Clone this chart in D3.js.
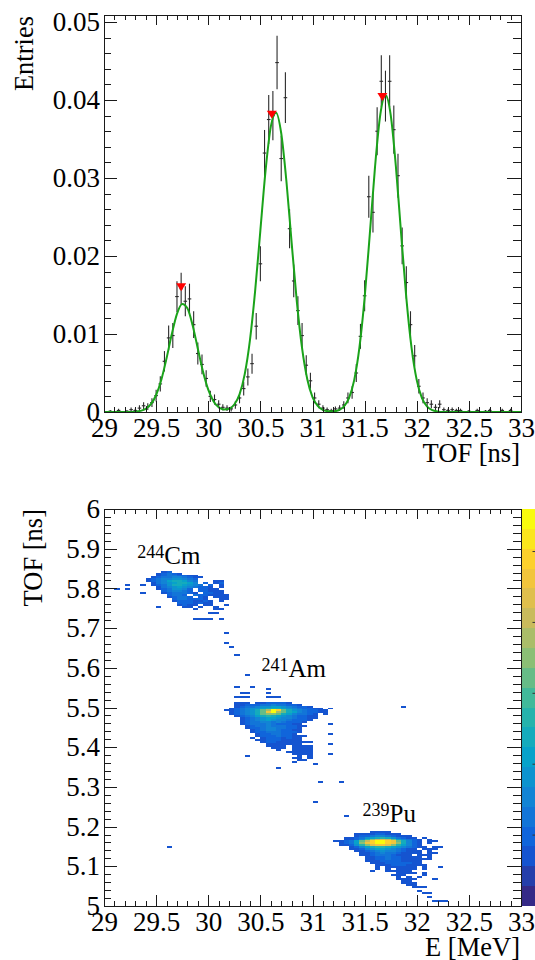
<!DOCTYPE html>
<html><head><meta charset="utf-8">
<script src="https://cdn.jsdelivr.net/npm/d3@7"></script>
<style>
html,body{margin:0;padding:0;background:#fff;}
svg{display:block;font-family:"Liberation Serif","DejaVu Serif","Noto Serif","Times New Roman",serif;}
svg text{font-family:"Liberation Serif","DejaVu Serif","Noto Serif","Times New Roman",serif;fill:#000;}
</style></head><body>
<svg id="c" width="535" height="960"></svg>
<script>
// ================= DATA =================
// --- top panel: TOF histogram (100 bins, 29..33 ns) ---
const tofBinLow = 29.0;
const tofBinWidth = 0.04;
const tofValues = [
0,0.0001,0,0.0002,0,0.0001,0.0003,0.0002,0.0005,0.0008,
0.0007,0.0012,0.0021,0.0036,0.0065,0.0095,0.0098,0.0148,0.0158,0.0142,
0.0145,0.0112,0.0075,0.0061,0.0043,0.0020,0.0016,0.0010,0.0006,0.0005,
0.0004,0.0009,0.0018,0.0030,0.0045,0.0062,0.0110,0.0190,0.0332,0.0375,
0.0380,0.0448,0.0325,0.0403,0.0235,0.0168,0.0130,0.0098,0.0060,0.0040,
0.0018,0.0010,0.0005,0.0003,0.0002,0.0004,0.0005,0.0009,0.0018,0.0025,
0.0050,0.0097,0.0149,0.0276,0.0256,0.0360,0.0424,0.0405,0.0424,0.0362,
0.0303,0.0213,0.0166,0.0112,0.0072,0.0033,0.0018,0.0012,0.0010,0.0006,
0.0010,0.0003,0.0002,0.0003,0.0002,0.0002,0,0.0001,0,0.0002,
0,0.0001,0.0002,0,0,0.0002,0,0.0002,0,0
];
const tofErrors = [
0,0.00016,0,0.00023,0,0.00016,0.00028,0.00023,0.00036,0.00046,
0.00043,0.00056,0.00074,0.00097,0.00131,0.00158,0.00161,0.00197,0.00204,0.00193,
0.00195,0.00172,0.0014,0.00127,0.00106,0.00073,0.00065,0.00051,0.0004,0.00036,
0.00032,0.00049,0.00069,0.00089,0.00109,0.00128,0.0017,0.00224,0.00296,0.00314,
0.00316,0.00343,0.00292,0.00326,0.00249,0.0021,0.00185,0.00161,0.00126,0.00103,
0.00069,0.00051,0.00036,0.00028,0.00023,0.00032,0.00036,0.00049,0.00069,0.00081,
0.00115,0.0016,0.00198,0.00269,0.0026,0.00308,0.00334,0.00326,0.00334,0.00309,
0.00282,0.00237,0.00209,0.00172,0.00138,0.00093,0.00069,0.00056,0.00051,0.0004,
0.00051,0.00028,0.00023,0.00028,0.00023,0.00023,0,0.00016,0,0.00023,
0,0.00016,0.00023,0,0,0.00023,0,0.00023,0,0
];
// fit curve read every 0.05 ns from 29.00 to 33.00
const fitStart = 29.0, fitStep = 0.05;
const fitValues = [
0,0,0,0,0,0,0.00004,0.00014,0.00040,0.00100,
0.00218,0.00414,0.00689,0.00997,0.01259,0.01386,0.01330,0.01113,0.00812,0.00516,
0.00286,0.00139,0.00061,0.00032,0.00042,0.00096,0.00226,0.00485,0.00921,0.01555,
0.02329,0.03098,0.03659,0.03838,0.03574,0.02955,0.02169,0.01413,0.00818,0.00420,
0.00192,0.00078,0.00028,0.00011,0.00010,0.00023,0.00069,0.00178,0.00409,0.00825,
0.01464,0.02287,0.03146,0.03809,0.04060,0.03809,0.03146,0.02287,0.01464,0.00825,
0.00409,0.00178,0.00069,0.00023,0.00007,0,0,0,0,0,
0,0,0,0,0,0,0,0,0,0,0
];
const peakTOF = [29.74, 30.61, 31.67];
const peakHeight = [0.0160, 0.0381, 0.0404];

const xTickValues = [29,29.5,30,30.5,31,31.5,32,32.5,33];
const topYTicks = [0,0.01,0.02,0.03,0.04,0.05];
const botYTicks = [5,5.1,5.2,5.3,5.4,5.5,5.6,5.7,5.8,5.9,6];

// --- bottom panel: E vs TOF 2D histogram ---
const eBinWidth = 0.05, tBinWidth = 0.005;
const zMax = 28, nContours = 20;
const zTicks = [5,10,15,20,25];
// each char = bin content (base 36), '.' = empty; rows top -> bottom
const cmOrigin = [29.40, 5.845];
const cmRows = [
"...45............",
"..45654..........",
"..45665544.......",
".4566886544......",
"4568899865.......",
"4568acca86...44..",
".4689acca8.5.45..",
".4569cca986.5.4..",
"..4689a986554.4..",
"..4569985.5544...",
"...568865.55444..",
"...4566654.5544..",
"....5665.6554444.",
"....45665.54.444.",
".....5665554..44.",
".....45554454.4..",
"......5554544....",
"......4544.44..4.",
"..4....44.4..4...",
".........4...44..",
".................",
"............44...",
".................",
".................",
".........4444.4.."
];
const amOrigin = [30.15, 5.590];
const amRows = [
"......................",
"....4.................",
"......................",
"......................",
"......................",
"......................",
"......................",
"..4..4................",
"........4.............",
"......................",
"...44...4.............",
"......................",
"..444...444...........",
"......................",
"......................",
"..444.4455554.........",
"..4455566866554.......",
"..4566899aa986554.....",
".456899accca9865544.4.",
"445689cgjspgc9865544..",
".45689cgnsjgca865544..",
".45689cgiigca86654.4..",
"..4568acdca9865544....",
"...45689aa98865544....",
"...45689a98865554.....",
"...4566886865554......",
"...456668655544.....4.",
"....456686665544......",
"....45568866554.......",
".....4568865544.......",
".....4556665554.......",
"......45566554......4.",
"......4555655444......",
".....4.45554544.......",
"......445554444.......",
".......4554444444.....",
"........4444444.....4.",
"........4444.4444.....",
".........444.4444.....",
"..........4..4444.....",
"............44444.....",
".............4444...4.",
"....4.........4.4.....",
".............44.4.....",
"..............44......"
];
const puOrigin = [31.10, 5.190];
const puRows = [
".........4444...........",
"......444455444.........",
"......45568865444.......",
"....44569acdc96544.4....",
"....4458dikmkga8654.4...",
"..4456agkpsspngc854.44..",
"...456ainpsspnic854.4...",
"...4459dimnnmida854.....",
".....458acddca986544.44.",
".....44589aa986544.444..",
"......4456898865444.4...",
".......445686654444.44..",
".......4456665444.444...",
"........44556554444.4...",
"........4455655444444...",
"........44455554444.....",
".........4445555544.....",
"..........4445554444....",
"..........4.444444.4..4.",
"..........4.4.4444.4....",
".........4..44444.......",
"..............4444.4....",
".............444...4....",
"..............4.4.4.....",
"..............4444...4..",
"...............44.......",
"...............444......",
"................44......",
".................444....",
"........................",
"..................4.....",
"...................44...",
"........................",
"....................4...",
"........................",
".....................444"
];
// isolated bins [E low edge, TOF low edge, content]
const sparseCells = [
 [29.10,5.795,4],[29.20,5.805,4],[29.20,5.795,4],[29.35,5.805,4],[29.35,5.785,4],
 [30.15,5.685,4],[30.15,5.660,4],[30.20,5.650,4],[30.25,5.630,4],
 [30.65,5.345,4],[30.80,5.360,4],[31.00,5.355,4],[31.05,5.310,4],[31.25,5.310,4],
 [31.00,5.260,4],[31.30,5.225,4],[29.60,5.145,4],[31.85,5.500,4]
];
const isoMass = ["244","241","239"];
const isoName = ["Cm","Am","Pu"];
const isoE = [29.32, 30.51, 31.48];
const isoT = [5.861, 5.576, 5.212];

// ================= DRAW =================
const FONT = "'Liberation Serif','DejaVu Serif','Noto Serif','Times New Roman',serif";
const svg = d3.select("#c").attr("font-family", FONT);
svg.append("rect").attr("width",535).attr("height",960).attr("fill","#fff");
const L = 104, R = 521;
const x1 = d3.scaleLinear([29,33],[L,R]);
const y1 = d3.scaleLinear([0,0.0509],[412,15]);
const x2 = d3.scaleLinear([29,33],[L,R]);
const y2 = d3.scaleLinear([5,6],[906,509]);

// ROOT kBird palette
const birdStops = [0,0.125,0.25,0.375,0.5,0.625,0.75,0.875,1];
const birdR = [0.2082,0.0592,0.0780,0.0232,0.1802,0.5301,0.8186,0.9956,0.9764];
const birdG = [0.1664,0.3599,0.5041,0.6419,0.7178,0.7492,0.7328,0.7862,0.9832];
const birdB = [0.5293,0.8684,0.8385,0.7914,0.6425,0.4662,0.3499,0.1968,0.0539];
const bird = d3.scaleLinear().domain(birdStops)
  .range(birdStops.map((s,i)=>d3.rgb(birdR[i]*255,birdG[i]*255,birdB[i]*255)))
  .interpolate(d3.interpolateRgb);
const levelOf = z => Math.min(nContours-1, Math.floor(z/zMax*nContours));
const colorOf = z => bird(levelOf(z)/(nContours-1));

const fmt = d => String(+(+d).toFixed(3));
function frame(x, y, top, bottom, yTicks, yMinor) {
  const g = svg.append("g");
  const style = s => { s.select(".domain").remove();
    s.selectAll("line").attr("stroke","#1a1a1a").attr("stroke-width",1).attr("shape-rendering","crispEdges");
    s.attr("font-size",27).attr("font-family",FONT); };
  const xMinor = d3.range(0,41).map(i=>29+i*0.1);
  g.append("g").attr("transform",`translate(0,${bottom})`)
    .call(d3.axisBottom(x).tickValues(xMinor).tickSize(-5.5).tickSizeOuter(0).tickFormat(()=>"")).call(style);
  g.append("g").attr("transform",`translate(0,${bottom})`)
    .call(d3.axisBottom(x).tickValues(xTickValues).tickSize(-11).tickSizeOuter(0).tickPadding(6).tickFormat(fmt)).call(style);
  g.append("g").attr("transform",`translate(0,${top})`)
    .call(d3.axisTop(x).tickValues(xMinor).tickSize(-5).tickSizeOuter(0).tickFormat(()=>"")).call(style);
  g.append("g").attr("transform",`translate(0,${top})`)
    .call(d3.axisTop(x).tickValues(xTickValues).tickSize(-10).tickSizeOuter(0).tickFormat(()=>"")).call(style);
  g.append("g").attr("transform",`translate(${L},0)`)
    .call(d3.axisLeft(y).tickValues(yMinor).tickSize(-7).tickSizeOuter(0).tickFormat(()=>"")).call(style);
  g.append("g").attr("transform",`translate(${L},0)`)
    .call(d3.axisLeft(y).tickValues(yTicks).tickSize(-13).tickSizeOuter(0).tickPadding(4).tickFormat(fmt)).call(style);
  g.append("g").attr("transform",`translate(${R},0)`)
    .call(d3.axisRight(y).tickValues(yMinor).tickSize(-8).tickSizeOuter(0).tickFormat(()=>"")).call(style);
  g.append("g").attr("transform",`translate(${R},0)`)
    .call(d3.axisRight(y).tickValues(yTicks).tickSize(-14).tickSizeOuter(0).tickFormat(()=>"")).call(style);
  g.append("rect").attr("x",L).attr("y",top).attr("width",R-L).attr("height",bottom-top)
    .attr("fill","none").attr("stroke","#1a1a1a").attr("stroke-width",1).attr("shape-rendering","crispEdges");
}

// ---------- top panel ----------
const hist = tofValues.map((v,i)=>({x: tofBinLow+(i+0.5)*tofBinWidth, v, e: tofErrors[i]})).filter(d=>d.v>0);
const gTop = svg.append("g");
gTop.selectAll("line.ev").data(hist).join("line").attr("class","ev")
  .attr("x1",d=>x1(d.x)).attr("x2",d=>x1(d.x))
  .attr("y1",d=>y1(Math.max(0,d.v-d.e))).attr("y2",d=>y1(d.v+d.e))
  .attr("stroke","#2a2a2a").attr("stroke-width",1.1);
gTop.selectAll("line.eh").data(hist).join("line").attr("class","eh")
  .attr("x1",d=>x1(d.x)-1.8).attr("x2",d=>x1(d.x)+1.8)
  .attr("y1",d=>y1(d.v)).attr("y2",d=>y1(d.v))
  .attr("stroke","#2a2a2a").attr("stroke-width",1.1);
const fitPts = fitValues.map((v,i)=>({x: fitStart+i*fitStep, y: v}));
gTop.append("path").datum(fitPts)
  .attr("d", d3.line().x(d=>x1(d.x)).y(d=>y1(d.y)).curve(d3.curveMonotoneX))
  .attr("fill","none").attr("stroke","#1aa31a").attr("stroke-width",2);
gTop.selectAll("path.pk").data(peakTOF.map((p,i)=>({x:p,y:peakHeight[i]}))).join("path").attr("class","pk")
  .attr("transform",d=>`translate(${x1(d.x)},${y1(d.y)})`)
  .attr("d","M-5,-4L5,-4L0,4Z").attr("fill","#ff0000");
frame(x1, y1, 15, 412, topYTicks, d3.range(0,26).map(i=>i*0.002));
svg.append("text").attr("transform","translate(33,16) rotate(-90)").attr("text-anchor","end")
  .attr("font-family",FONT).attr("font-size",26.5).text("Entries");
svg.append("text").attr("x",520).attr("y",462).attr("text-anchor","end")
  .attr("font-family",FONT).attr("font-size",26.5).text("TOF [ns]");

// ---------- bottom panel ----------
function gridCells(origin, rows) {
  const out = [];
  rows.forEach((row, r) => {
    for (let c = 0; c < row.length; c++) {
      const ch = row[c];
      if (ch === ".") continue;
      out.push({e: origin[0] + c*eBinWidth, t: origin[1] - (r+1)*tBinWidth, z: parseInt(ch,36)});
    }
  });
  return out;
}
const cells = [].concat(gridCells(cmOrigin,cmRows), gridCells(amOrigin,amRows), gridCells(puOrigin,puRows),
  sparseCells.map(d=>({e:d[0], t:d[1], z:d[2]})));
const gBot = svg.append("g");
gBot.selectAll("rect.cell").data(cells).join("rect").attr("class","cell")
  .attr("x",d=>x2(d.e)).attr("width",d=>x2(d.e+eBinWidth)-x2(d.e))
  .attr("y",d=>y2(d.t+tBinWidth)).attr("height",d=>y2(d.t)-y2(d.t+tBinWidth))
  .attr("fill",d=>colorOf(d.z)).attr("shape-rendering","crispEdges");
// palette
const zScale = d3.scaleLinear([0,zMax],[906,509]);
const bands = d3.range(nContours);
svg.selectAll("rect.pal").data(bands).join("rect").attr("class","pal")
  .attr("x",522).attr("width",20)
  .attr("y",i=>zScale((i+1)*zMax/nContours)).attr("height",i=>zScale(i*zMax/nContours)-zScale((i+1)*zMax/nContours))
  .attr("fill",i=>bird(i/(nContours-1))).attr("shape-rendering","crispEdges");
svg.selectAll("line.zt").data(zTicks).join("line").attr("class","zt")
  .attr("x1",532.5).attr("x2",536).attr("y1",d=>zScale(d)).attr("y2",d=>zScale(d))
  .attr("stroke","#333").attr("stroke-width",1);
frame(x2, y2, 509, 906, botYTicks, d3.range(0,51).map(i=>5+i*0.02));
svg.append("text").attr("transform","translate(42,509) rotate(-90)").attr("text-anchor","end")
  .attr("font-family",FONT).attr("font-size",26.5).text("TOF [ns]");
svg.append("text").attr("x",520).attr("y",956).attr("text-anchor","end")
  .attr("font-family",FONT).attr("font-size",26.5).text("E [MeV]");
// isotope labels
isoName.forEach((n,i)=>{
  const t = svg.append("text").attr("x",x2(isoE[i])).attr("y",y2(isoT[i])).attr("font-family",FONT);
  t.append("tspan").attr("font-size",18).attr("dy",-6).text(isoMass[i]);
  t.append("tspan").attr("font-size",25).attr("dy",6).text(n);
});
</script>
</body></html>
